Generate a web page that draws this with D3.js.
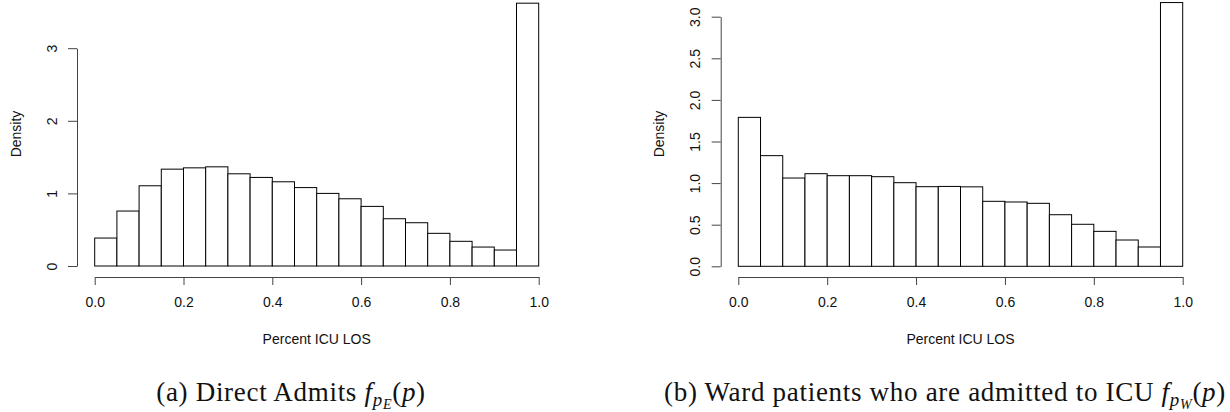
<!DOCTYPE html>
<html>
<head>
<meta charset="utf-8">
<script src="https://cdn.jsdelivr.net/npm/d3@7"></script>
<style>
  body { margin: 0; background: #fff; }
  svg text { font-family: "Liberation Sans", Arial, sans-serif; }
  .caption { font-family: "Liberation Serif", "Times New Roman", serif; letter-spacing: 0.7px; }
</style>
</head>
<body>
<svg id="graph" width="1230" height="412"></svg>
<script>
    var w = 1230;
    var h = 412;

    // bin edges of the histograms (Percent ICU LOS)
    var breaks = [0, 0.05, 0.1, 0.15, 0.2, 0.25, 0.3, 0.35, 0.4, 0.45, 0.5,
                  0.55, 0.6, 0.65, 0.7, 0.75, 0.8, 0.85, 0.9, 0.95, 1.0];

    // (a) direct admits
    var directDensity = [0.385, 0.757, 1.105, 1.334, 1.352, 1.366, 1.27, 1.22, 1.16, 1.08,
                         1.0, 0.926, 0.821, 0.651, 0.596, 0.45, 0.34, 0.261, 0.22, 3.62];
    // (b) ward patients admitted to ICU
    var wardDensity = [1.79, 1.33, 1.061, 1.113, 1.089, 1.089, 1.077, 1.005, 0.957, 0.96,
                       0.955, 0.781, 0.773, 0.757, 0.62, 0.505, 0.42, 0.316, 0.232, 3.17];

    var xTicks = [0, 0.2, 0.4, 0.6, 0.8, 1.0];
    var directYTicks = [0, 1, 2, 3];
    var wardYTicks = [0, 0.5, 1.0, 1.5, 2.0, 2.5, 3.0];

    var svg = d3.select("#graph");

    // one panel = one histogram
    function drawPanel(opts) {
        var x = d3.scaleLinear().domain([0, 1]).range([opts.left, opts.right]);
        var y = d3.scaleLinear().domain([0, 3]).range([opts.base, opts.top3]);

        var g = svg.append("g");

        g.selectAll("rect")
         .data(opts.values)
         .enter()
         .append("rect")
         .attr("x", function(d, i) { return x(breaks[i]); })
         .attr("y", function(d) { return y(d); })
         .attr("width", function(d, i) { return x(breaks[i + 1]) - x(breaks[i]); })
         .attr("height", function(d) { return y(0) - y(d); })
         .style("fill", "white")
         .style("stroke", "black")
         .style("stroke-width", 1);

        // x axis, R style: detached below the bars
        var xAxis = g.append("g")
         .attr("transform", "translate(0," + opts.xAxisY + ")")
         .call(d3.axisBottom(x).tickValues(xTicks).tickSize(8).tickSizeOuter(0)
               .tickPadding(12).tickFormat(d3.format(".1f")));
        xAxis.select(".domain").attr("stroke", "#444");
        xAxis.selectAll(".tick line").attr("stroke", "#444");
        xAxis.selectAll("text")
         .style("font-size", "14px")
         .attr("fill", "#111")
         .style("font-family", "Liberation Sans, Arial, sans-serif");

        // y axis, labels rotated
        var yAxis = g.append("g")
         .attr("transform", "translate(" + opts.yAxisX + ",0)")
         .call(d3.axisLeft(y).tickValues(opts.yTicks).tickSize(9).tickSizeOuter(0)
               .tickFormat(opts.yFormat));
        yAxis.select(".domain").attr("stroke", "#444");
        yAxis.selectAll(".tick line").attr("stroke", "#444");
        yAxis.selectAll("text")
         .attr("x", null)
         .attr("dy", null)
         .attr("transform", "translate(-20.5,0) rotate(-90)")
         .attr("text-anchor", "middle")
         .attr("fill", "#111")
         .style("font-size", "14px")
         .style("font-family", "Liberation Sans, Arial, sans-serif");

        // axis titles
        g.append("text")
         .attr("transform", "translate(" + opts.densityX + ",134) rotate(-90)")
         .attr("text-anchor", "middle")
         .style("font-size", "14px")
         .attr("fill", "#111")
         .text("Density");

        g.append("text")
         .attr("x", (opts.left + opts.right) / 2)
         .attr("y", 343.5)
         .attr("text-anchor", "middle")
         .style("font-size", "14px")
         .attr("fill", "#111")
         .text("Percent ICU LOS");

        // caption with f_{p_X}(p)
        var cap = g.append("text")
         .attr("class", "caption")
         .attr("x", opts.capX)
         .attr("y", 401)
         .attr("text-anchor", "middle")
         .style("font-size", "27px")
         .attr("fill", "#111");
        cap.append("tspan").text(opts.caption + " ");
        cap.append("tspan").style("font-style", "italic").text("f");
        cap.append("tspan").style("font-style", "italic").style("font-size", "19px")
           .attr("dy", 5).text("p");
        cap.append("tspan").style("font-style", "italic").style("font-size", "14px")
           .attr("dy", 3).text(opts.sub);
        cap.append("tspan").attr("dy", -8).text("(");
        cap.append("tspan").style("font-style", "italic").text("p");
        cap.append("tspan").text(")");
    }

    drawPanel({
        values: directDensity,
        left: 94.7, right: 538.7,
        base: 266, top3: 48.2,
        xAxisY: 277, yAxisX: 77,
        yTicks: directYTicks, yFormat: d3.format("d"),
        densityX: 21,
        caption: "(a) Direct Admits", sub: "E", capX: 291
    });

    drawPanel({
        values: wardDensity,
        left: 738.3, right: 1182.7,
        base: 266.3, top3: 16.7,
        xAxisY: 277, yAxisX: 720.7,
        yTicks: wardYTicks, yFormat: d3.format(".1f"),
        densityX: 664,
        caption: "(b) Ward patients who are admitted to ICU", sub: "W", capX: 945
    });
</script>
</body>
</html>
